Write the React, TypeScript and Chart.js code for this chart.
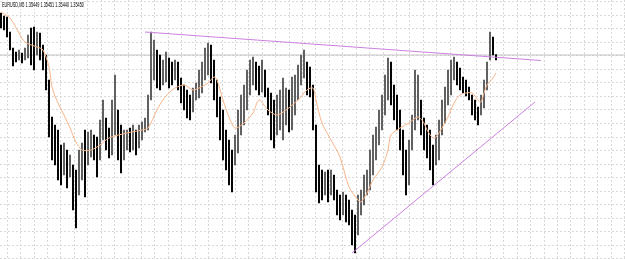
import React, { useEffect, useRef } from "react";
import { Chart, registerables } from "chart.js";
Chart.register(...registerables);

const symbolLabel = "EURUSD,M5";
const lastOHLC = ["1.35449", "1.35451", "1.35440", "1.35450"];

const barHighs = [
  1.35534, 1.35528, 1.35526, 1.35496, 1.35464, 1.35456, 1.3546, 1.35454, 1.35464, 1.3549,
  1.35504, 1.35506, 1.35496, 1.35494, 1.3547, 1.3545, 1.354, 1.35326, 1.3531, 1.353,
  1.3527, 1.35274, 1.3526, 1.3525, 1.3523, 1.3522, 1.3526, 1.35274, 1.353, 1.35296,
  1.353, 1.3529, 1.35286, 1.3532, 1.3536, 1.35324, 1.35304, 1.3536, 1.3541, 1.3534,
  1.3531, 1.353, 1.353, 1.35304, 1.3531, 1.353, 1.3531, 1.35316, 1.35324, 1.3537,
  1.35496, 1.3548, 1.3546, 1.3545, 1.3544, 1.35456, 1.35444, 1.35436, 1.3544, 1.35436,
  1.35404, 1.3539, 1.3538, 1.3537, 1.35384, 1.35394, 1.3542, 1.35436, 1.35464, 1.35474,
  1.3547, 1.3544, 1.354, 1.35366, 1.3534, 1.353, 1.3528, 1.3526, 1.3529, 1.3534,
  1.3537, 1.3539, 1.3542, 1.3544, 1.35446, 1.35436, 1.35428, 1.3544, 1.3542, 1.35384,
  1.35374, 1.3536, 1.3537, 1.3538, 1.35404, 1.35384, 1.3538, 1.35406, 1.3541, 1.3543,
  1.3545, 1.3546, 1.35436, 1.35426, 1.3539, 1.3531, 1.3523, 1.3522, 1.35216, 1.3522,
  1.3522, 1.3521, 1.3518, 1.3517, 1.35176, 1.3517, 1.3516, 1.3514, 1.3513, 1.3517,
  1.3518, 1.3521, 1.3522, 1.3526, 1.3529, 1.35306, 1.3534, 1.3537, 1.3541, 1.35444,
  1.35436, 1.3539, 1.3537, 1.3534, 1.353, 1.3526, 1.3528, 1.3533, 1.3542, 1.3541,
  1.3536, 1.35324, 1.3531, 1.353, 1.3527, 1.3529, 1.3532, 1.3536, 1.35386, 1.3542,
  1.3544, 1.35446, 1.35436, 1.35424, 1.35406, 1.354, 1.35386, 1.3537, 1.3536, 1.35346,
  1.3537, 1.354, 1.35436, 1.35496, 1.35486, 1.35451,
];

const barLows = [
  1.35504, 1.355, 1.35486, 1.3546, 1.35428, 1.35436, 1.3544, 1.35434, 1.3544, 1.35444,
  1.3543, 1.3542, 1.3545, 1.3544, 1.3542, 1.3538, 1.35286, 1.3524, 1.3523, 1.352,
  1.3519, 1.3521, 1.35184, 1.35206, 1.3514, 1.35104, 1.3517, 1.352, 1.35166, 1.3523,
  1.35246, 1.3524, 1.35206, 1.3524, 1.3528, 1.3526, 1.35244, 1.3525, 1.3529, 1.3524,
  1.35214, 1.3524, 1.3526, 1.35256, 1.3526, 1.3525, 1.35264, 1.3528, 1.35296, 1.353,
  1.3536, 1.354, 1.35384, 1.3538, 1.3539, 1.35396, 1.35384, 1.3539, 1.354, 1.3538,
  1.35354, 1.3534, 1.35324, 1.3532, 1.35336, 1.3536, 1.35364, 1.35374, 1.354, 1.3541,
  1.35394, 1.3536, 1.35326, 1.3528, 1.3524, 1.3522, 1.3519, 1.35176, 1.3523, 1.35254,
  1.3529, 1.3531, 1.3534, 1.3537, 1.3539, 1.3538, 1.3537, 1.35376, 1.35366, 1.3533,
  1.3528, 1.35264, 1.3529, 1.353, 1.3528, 1.3531, 1.35296, 1.353, 1.3533, 1.3536,
  1.3539, 1.35404, 1.3537, 1.35366, 1.353, 1.35176, 1.35154, 1.3516, 1.3517, 1.35156,
  1.3517, 1.3516, 1.3513, 1.3512, 1.3513, 1.35116, 1.3511, 1.3507, 1.35054, 1.3509,
  1.3513, 1.3515, 1.3517, 1.3518, 1.3521, 1.3524, 1.3527, 1.353, 1.3533, 1.3536,
  1.3535, 1.3532, 1.353, 1.3526, 1.3521, 1.3517, 1.3519, 1.3526, 1.353, 1.3532,
  1.3529, 1.3526, 1.35244, 1.3522, 1.3519, 1.3523, 1.3524, 1.3529, 1.35314, 1.3535,
  1.3537, 1.354, 1.3539, 1.3538, 1.35374, 1.35368, 1.3536, 1.3533, 1.3532, 1.3531,
  1.3533, 1.35344, 1.3538, 1.3544, 1.3545, 1.3544,
];

const maBars = [
  0, 3, 6, 8, 12, 14, 16, 17, 19, 21, 23, 25, 27, 30, 33, 36, 42, 47, 49, 52,
  54, 57, 61, 64, 66, 69, 71, 72, 74, 76, 78, 81, 84, 86, 89, 92, 95, 99, 102, 104,
  105, 107, 110, 113, 116, 119, 120, 122, 124, 127, 129, 130, 133, 136, 139, 141, 142, 144, 145, 147,
  149, 151, 153, 155, 157, 159, 160, 161, 162, 164, 165,
];
const maValues = [
  1.35536, 1.35524, 1.35494, 1.35476, 1.35466, 1.3546, 1.35426, 1.35386, 1.35354, 1.3533,
  1.35304, 1.35276, 1.3526, 1.3526, 1.3527, 1.35284, 1.35294, 1.353, 1.35304, 1.3534,
  1.3536, 1.3538, 1.3539, 1.3538, 1.35384, 1.35394, 1.35406, 1.354, 1.3536, 1.35326,
  1.35304, 1.35314, 1.35334, 1.3536, 1.3534, 1.3533, 1.3534, 1.3536, 1.3538, 1.35384,
  1.3536, 1.35314, 1.3528, 1.35246, 1.35186, 1.3516, 1.35156, 1.35174, 1.352, 1.35226,
  1.3526, 1.3529, 1.35304, 1.35314, 1.35326, 1.35314, 1.353, 1.35284, 1.35286, 1.35304,
  1.35326, 1.35354, 1.3537, 1.35374, 1.35374, 1.3536, 1.35356, 1.35374, 1.3539, 1.35404,
  1.35414,
];

const upperTrendBars = [48, 180];
const upperTrendValues = [1.35496, 1.35439];
const lowerTrendBars = [117, 178];
const lowerTrendValues = [1.35054, 1.35356];
const bidPrice = 1.3545;

const W = 625;
const H = 260;
const PX_PER_BAR = 3;
const X_MIN = -1 / 3;
const X_MAX = X_MIN + W / PX_PER_BAR;
const Y_MAX = 1.3556;
const Y_MIN = 1.3504;

export default function App() {
  const canvasRef = useRef<HTMLCanvasElement | null>(null);
  const labelRef = useRef<HTMLDivElement | null>(null);

  useEffect(() => {
    const lbl = labelRef.current;
    if (lbl) {
      const w = lbl.scrollWidth;
      if (w > 0) lbl.style.transform = `scaleX(${82 / w})`;
    }
    const canvas = canvasRef.current;
    if (!canvas) return;

    const barData = barHighs.map((h, i) => ({ x: i, y: [barLows[i], h] }));
    const barColors = barHighs.map((h, i) => {
      if (i === 0) return "#000000";
      const mid = (h + barLows[i]) / 2;
      const prev = (barHighs[i - 1] + barLows[i - 1]) / 2;
      return mid > prev ? "#5e5e5e" : "#000000";
    });

    const chart = new Chart(canvas, {
      type: "bar",
      data: {
        datasets: [
          {
            type: "line",
            label: "bid",
            data: [
              { x: X_MIN, y: bidPrice },
              { x: X_MAX, y: bidPrice },
            ],
            borderColor: "#c4c4c4",
            borderWidth: 1,
            pointRadius: 0,
            order: 5,
          } as any,
          {
            type: "bar",
            label: "bars",
            data: barData as any,
            backgroundColor: barColors,
            borderWidth: 0,
            barThickness: 1.3,
            grouped: false,
            order: 3,
          } as any,
          {
            type: "line",
            label: "MA",
            data: maBars.map((b, i) => ({ x: b, y: maValues[i] })),
            borderColor: "rgb(246,180,136)",
            borderWidth: 1,
            pointRadius: 0,
            tension: 0.3,
            order: 2,
          } as any,
          {
            type: "line",
            label: "upper",
            data: upperTrendBars.map((b, i) => ({ x: b, y: upperTrendValues[i] })),
            borderColor: "#cc80e0",
            borderWidth: 1,
            pointRadius: 0,
            order: 1,
          } as any,
          {
            type: "line",
            label: "lower",
            data: lowerTrendBars.map((b, i) => ({ x: b, y: lowerTrendValues[i] })),
            borderColor: "#cc80e0",
            borderWidth: 1,
            pointRadius: 0,
            order: 1,
          } as any,
        ],
      },
      options: {
        animation: false,
        responsive: false,
        maintainAspectRatio: false,
        layout: { padding: 0 },
        plugins: { legend: { display: false }, tooltip: { enabled: false } },
        scales: {
          x: {
            type: "linear",
            min: X_MIN,
            max: X_MAX,
            offset: false,
            ticks: { display: false },
            grid: { color: "#d9d9d9", drawTicks: false, lineWidth: 1 },
            border: { display: false, dash: [2, 2] },
            afterBuildTicks: (scale: any) => {
              const t: any[] = [];
              for (let px = 14; px < W; px += 13.42) t.push({ value: X_MIN + px / PX_PER_BAR });
              scale.ticks = t;
            },
          },
          y: {
            type: "linear",
            min: Y_MIN,
            max: Y_MAX,
            ticks: { display: false },
            grid: { color: "#d9d9d9", drawTicks: false, lineWidth: 1 },
            border: { display: false, dash: [2, 2] },
            afterBuildTicks: (scale: any) => {
              const t: any[] = [];
              for (let py = 1.5; py < H; py += 13.55)
                t.push({ value: Y_MAX - (py / H) * (Y_MAX - Y_MIN) });
              scale.ticks = t;
            },
          },
        },
      } as any,
    });
    return () => chart.destroy();
  }, []);

  return (
    <div style={{ position: "fixed", left: 0, top: 0, width: W, height: H, background: "#fff", overflow: "hidden" }}>
      <canvas ref={canvasRef} width={W} height={H} style={{ display: "block", width: W, height: H }} />
      <div
        ref={labelRef}
        style={{
          position: "absolute",
          left: 2,
          top: 1,
          fontFamily: "'Liberation Sans', Arial, sans-serif",
          fontSize: "7.5px",
          lineHeight: "8px",
          color: "#000",
          whiteSpace: "nowrap",
          transformOrigin: "left top",
          display: "inline-block",
          background: "#fff",
        }}
      >
        {symbolLabel} {lastOHLC.join(" ")}
      </div>
    </div>
  );
}
